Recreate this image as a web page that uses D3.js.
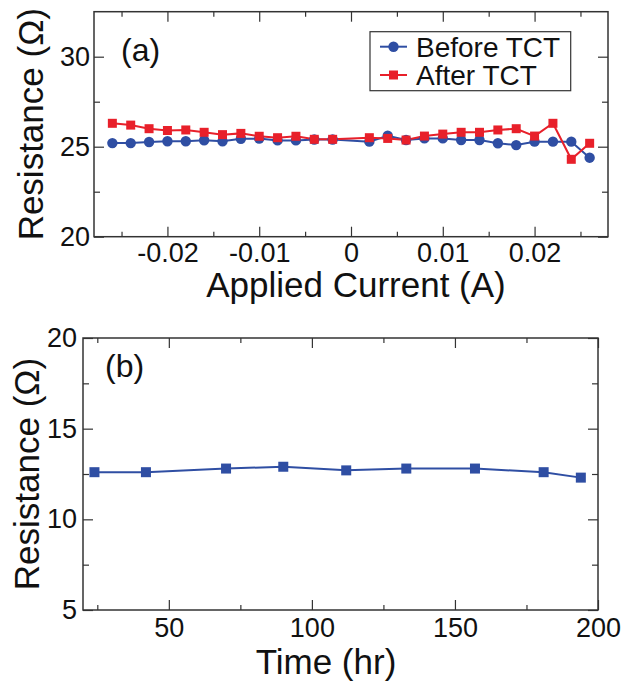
<!DOCTYPE html>
<html>
<head>
<meta charset="utf-8">
<script src="https://cdn.jsdelivr.net/npm/d3@7"></script>
<style>
  body { margin: 0; background: #fff; }
  text { font-family: "Liberation Sans", Arial, Helvetica, sans-serif; fill: #111; }
</style>
</head>
<body>
<div id="chart"></div>
<script>
// panel (a) data
const current = [-0.026,-0.024,-0.022,-0.020,-0.018,-0.016,-0.014,-0.012,-0.010,-0.008,-0.006,-0.004,-0.002,
                 0.002,0.004,0.006,0.008,0.010,0.012,0.014,0.016,0.018,0.020,0.022,0.024,0.026]
const beforeTCT = [25.2,25.2,25.26,25.3,25.3,25.36,25.3,25.44,25.45,25.35,25.35,25.4,25.4,
                   25.28,25.61,25.37,25.46,25.46,25.37,25.37,25.19,25.09,25.28,25.28,25.28,24.39]
const afterTCT = [26.3,26.2,26.0,25.9,25.93,25.8,25.67,25.74,25.58,25.5,25.58,25.41,25.41,
                  25.5,25.46,25.37,25.59,25.7,25.8,25.8,25.93,26.0,25.59,26.3,24.3,25.19]
const aXTicks = [-0.02,-0.01,0,0.01,0.02]
const aXLabels = ["-0.02","-0.01","0","0.01","0.02"]
const aXMinor = [-0.025,-0.015,-0.005,0.005,0.015,0.025]
const aYTicks = [20,25,30]
const aYMinor = [22.5,27.5]

// panel (b) data
const timeHr = [24,42,70,90,112,133,157,181,194]
const resistB = [12.6,12.6,12.8,12.9,12.7,12.8,12.8,12.6,12.3]
const bXTicks = [50,100,150,200]
const bXMinor = [25,75,125,175]
const bYTicks = [5,10,15,20]
const bYMinor = [7.5,12.5,17.5]

const width = 623
const height = 683
const blue = "#2f4ea3"
const red = "#e8202a"
const frameColor = "#333"

const svg = d3.select("#chart")
    .append("svg")
    .attr("width", width)
    .attr("height", height)

function frameAxes(g, x, y, opts){
    const [x0, x1] = x.range()
    const [y0, y1] = y.range()
    // major/minor ticks, inward, on all four sides
    g.append("g").attr("transform", `translate(0,${y0})`)
        .call(d3.axisBottom(x).tickValues(opts.xTicks).tickSize(-10).tickPadding(opts.xPad)
            .tickFormat((d,i)=>opts.xLabels ? opts.xLabels[i] : d))
    g.append("g").attr("transform", `translate(0,${y0})`)
        .call(d3.axisBottom(x).tickValues(opts.xMinor).tickSize(-5).tickFormat(""))
    g.append("g").attr("transform", `translate(0,${y1})`)
        .call(d3.axisTop(x).tickValues(opts.xTicks).tickSize(-10).tickFormat(""))
    g.append("g").attr("transform", `translate(0,${y1})`)
        .call(d3.axisTop(x).tickValues(opts.xMinor).tickSize(-5).tickFormat(""))
    g.append("g").attr("transform", `translate(${x0},0)`)
        .call(d3.axisLeft(y).tickValues(opts.yTicks).tickSize(-10).tickPadding(opts.yPad))
    g.append("g").attr("transform", `translate(${x0},0)`)
        .call(d3.axisLeft(y).tickValues(opts.yMinor).tickSize(-6).tickFormat(""))
    g.append("g").attr("transform", `translate(${x1},0)`)
        .call(d3.axisRight(y).tickValues(opts.yTicks).tickSize(-10).tickFormat(""))
    g.append("g").attr("transform", `translate(${x1},0)`)
        .call(d3.axisRight(y).tickValues(opts.yMinor).tickSize(-6).tickFormat(""))
    g.selectAll(".domain").remove()
    g.selectAll(".tick line").attr("stroke", frameColor).attr("stroke-width", 1.2)
    g.selectAll(".tick text").style("font-size", "27px").attr("fill", "#111")
    g.append("rect")
        .attr("x", x0).attr("y", y1)
        .attr("width", x1 - x0).attr("height", y0 - y1)
        .attr("fill", "none").attr("stroke", frameColor).attr("stroke-width", 1.5)
}

// ---------- panel (a) ----------
const layer_a = svg.append("g")
const xa = d3.scaleLinear().domain([-0.028, 0.028]).range([94, 608])
const ya = d3.scaleLinear().domain([20, 32.5]).range([236.7, 11.7])

frameAxes(layer_a, xa, ya, {xTicks: aXTicks, xLabels: aXLabels, xMinor: aXMinor, xPad: 6,
                            yTicks: aYTicks, yMinor: aYMinor, yPad: 4})

const line_a = d3.line().x((d,i)=>xa(current[i])).y(d=>ya(d))
layer_a.append("path").datum(beforeTCT)
    .attr("fill", "none").attr("stroke", blue).attr("stroke-width", 2)
    .attr("d", line_a)
layer_a.append("path").datum(afterTCT)
    .attr("fill", "none").attr("stroke", red).attr("stroke-width", 2)
    .attr("d", line_a)
layer_a.selectAll("circle.before")
    .data(beforeTCT)
    .join("circle")
    .attr("class", "before")
    .attr("cx", (d,i)=>xa(current[i]))
    .attr("cy", d=>ya(d))
    .attr("r", 5.2)
    .attr("fill", blue)
layer_a.selectAll("rect.after")
    .data(afterTCT)
    .join("rect")
    .attr("class", "after")
    .attr("x", (d,i)=>xa(current[i]) - 4.5)
    .attr("y", d=>ya(d) - 4.5)
    .attr("width", 9).attr("height", 9)
    .attr("fill", red)

layer_a.append("text")
    .attr("x", 121).attr("y", 61)
    .style("font-size", "32px")
    .text("(a)")

// legend
const legend = layer_a.append("g")
legend.append("rect")
    .attr("x", 370).attr("y", 31.7).attr("width", 200.7).attr("height", 59)
    .attr("fill", "#fff").attr("stroke", frameColor).attr("stroke-width", 1.2)
const legendItems = [
    {label: "Before TCT", color: blue, shape: "circle"},
    {label: "After TCT", color: red, shape: "square"}
]
legendItems.forEach((it, i) => {
    const cy = 46.7 + i * 28.3
    legend.append("line")
        .attr("x1", 380).attr("x2", 407).attr("y1", cy).attr("y2", cy)
        .attr("stroke", it.color).attr("stroke-width", 2)
    if (it.shape === "circle") {
        legend.append("circle").attr("cx", 393.5).attr("cy", cy).attr("r", 5.2).attr("fill", it.color)
    } else {
        legend.append("rect").attr("x", 389).attr("y", cy - 4.5).attr("width", 9).attr("height", 9).attr("fill", it.color)
    }
    legend.append("text")
        .attr("x", 416).attr("y", cy + 10)
        .style("font-size", "28px")
        .text(it.label)
})

layer_a.append("text")
    .attr("x", 356).attr("y", 297)
    .attr("text-anchor", "middle")
    .style("font-size", "35px")
    .text("Applied Current (A)")
layer_a.append("text")
    .attr("transform", `translate(43,${(236.7 + 11.7) / 2}) rotate(-90)`)
    .attr("text-anchor", "middle")
    .style("font-size", "35px")
    .text("Resistance (Ω)")

// ---------- panel (b) ----------
const layer_b = svg.append("g")
const xb = d3.scaleLinear().domain([20, 200]).range([83, 598])
const yb = d3.scaleLinear().domain([5, 20]).range([610, 338])

frameAxes(layer_b, xb, yb, {xTicks: bXTicks, xMinor: bXMinor, xPad: 8,
                            yTicks: bYTicks, yMinor: bYMinor, yPad: 6})

layer_b.append("path").datum(resistB)
    .attr("fill", "none").attr("stroke", blue).attr("stroke-width", 2)
    .attr("d", d3.line().x((d,i)=>xb(timeHr[i])).y(d=>yb(d)))
layer_b.selectAll("rect.pt")
    .data(resistB)
    .join("rect")
    .attr("class", "pt")
    .attr("x", (d,i)=>xb(timeHr[i]) - 5)
    .attr("y", d=>yb(d) - 5)
    .attr("width", 10).attr("height", 10)
    .attr("fill", blue)

layer_b.append("text")
    .attr("x", 105).attr("y", 377)
    .style("font-size", "32px")
    .text("(b)")
layer_b.append("text")
    .attr("x", 326).attr("y", 674)
    .attr("text-anchor", "middle")
    .style("font-size", "35px")
    .text("Time (hr)")
layer_b.append("text")
    .attr("transform", `translate(39,${(610 + 338) / 2}) rotate(-90)`)
    .attr("text-anchor", "middle")
    .style("font-size", "35px")
    .text("Resistance (Ω)")
</script>
</body>
</html>
